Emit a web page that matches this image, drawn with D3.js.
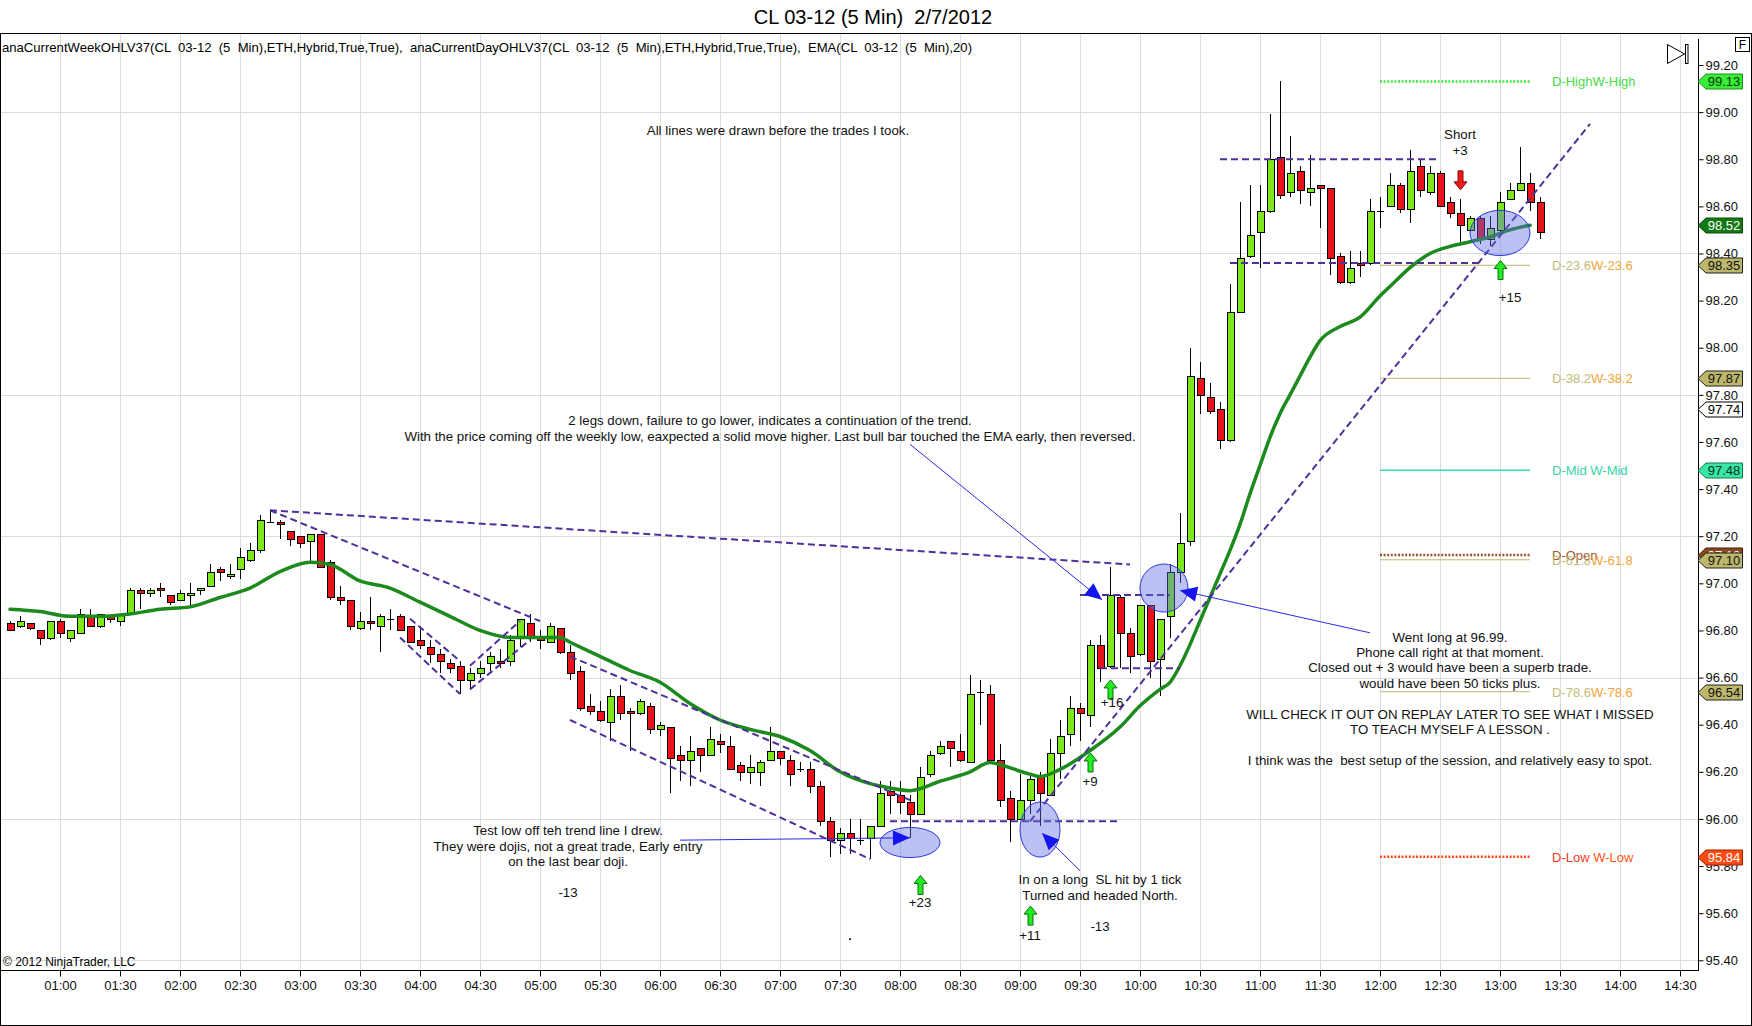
<!DOCTYPE html>
<html>
<head>
<meta charset="utf-8">
<script src="https://cdn.jsdelivr.net/npm/d3@7"></script>
<style>
    body { margin: 0; background: #fff; }
    svg text { font-family: "Liberation Sans", Arial, sans-serif; }
</style>
</head>
<body>
<svg id="chart"></svg>
<script>
// bars: time, open, high, low, close
var candles = [
    ["00:35", 96.83, 96.84, 96.80, 96.80], ["00:40", 96.82, 96.86, 96.81, 96.84],
    ["00:45", 96.83, 96.83, 96.80, 96.81], ["00:50", 96.80, 96.80, 96.74, 96.77],
    ["00:55", 96.77, 96.84, 96.76, 96.84], ["01:00", 96.84, 96.85, 96.77, 96.79],
    ["01:05", 96.77, 96.80, 96.75, 96.80], ["01:10", 96.79, 96.89, 96.79, 96.87],
    ["01:15", 96.86, 96.89, 96.82, 96.82], ["01:20", 96.82, 96.87, 96.81, 96.87],
    ["01:25", 96.86, 96.86, 96.83, 96.85], ["01:30", 96.84, 96.87, 96.82, 96.87],
    ["01:35", 96.87, 96.98, 96.87, 96.97], ["01:40", 96.97, 96.98, 96.89, 96.96],
    ["01:45", 96.96, 96.98, 96.94, 96.97], ["01:50", 96.98, 97.00, 96.94, 96.97],
    ["01:55", 96.95, 96.95, 96.91, 96.92], ["02:00", 96.93, 96.97, 96.93, 96.96],
    ["02:05", 96.95, 97.00, 96.90, 96.96], ["02:10", 96.97, 96.98, 96.95, 96.98],
    ["02:15", 96.99, 97.08, 96.99, 97.05], ["02:20", 97.06, 97.07, 97.01, 97.05],
    ["02:25", 97.03, 97.08, 97.02, 97.04], ["02:30", 97.06, 97.15, 97.02, 97.11],
    ["02:35", 97.10, 97.17, 97.09, 97.14], ["02:40", 97.14, 97.29, 97.13, 97.27],
    ["02:45", 97.26, 97.31, 97.26, 97.26], ["02:50", 97.26, 97.27, 97.19, 97.25],
    ["02:55", 97.22, 97.22, 97.16, 97.19], ["03:00", 97.20, 97.20, 97.15, 97.17],
    ["03:05", 97.18, 97.21, 97.09, 97.21], ["03:10", 97.21, 97.21, 97.07, 97.07],
    ["03:15", 97.09, 97.10, 96.93, 96.94], ["03:20", 96.94, 96.99, 96.91, 96.93],
    ["03:25", 96.93, 96.93, 96.80, 96.82], ["03:30", 96.81, 96.88, 96.80, 96.84],
    ["03:35", 96.84, 96.94, 96.80, 96.83], ["03:40", 96.82, 96.87, 96.71, 96.86],
    ["03:45", 96.85, 96.89, 96.80, 96.85], ["03:50", 96.86, 96.87, 96.80, 96.80],
    ["03:55", 96.82, 96.82, 96.75, 96.75], ["04:00", 96.76, 96.81, 96.72, 96.74],
    ["04:05", 96.73, 96.76, 96.66, 96.70], ["04:10", 96.70, 96.72, 96.62, 96.67],
    ["04:15", 96.66, 96.68, 96.62, 96.64], ["04:20", 96.65, 96.67, 96.53, 96.59],
    ["04:25", 96.59, 96.64, 96.55, 96.62], ["04:30", 96.62, 96.67, 96.60, 96.64],
    ["04:35", 96.66, 96.71, 96.63, 96.69], ["04:40", 96.67, 96.72, 96.64, 96.66],
    ["04:45", 96.67, 96.78, 96.65, 96.76], ["04:50", 96.77, 96.85, 96.73, 96.85],
    ["04:55", 96.83, 96.87, 96.75, 96.77], ["05:00", 96.77, 96.80, 96.72, 96.76],
    ["05:05", 96.75, 96.83, 96.75, 96.82], ["05:10", 96.81, 96.81, 96.70, 96.71],
    ["05:15", 96.71, 96.74, 96.59, 96.62], ["05:20", 96.63, 96.65, 96.46, 96.47],
    ["05:25", 96.48, 96.53, 96.44, 96.46], ["05:30", 96.46, 96.50, 96.41, 96.42],
    ["05:35", 96.41, 96.55, 96.33, 96.52], ["05:40", 96.52, 96.57, 96.42, 96.45],
    ["05:45", 96.46, 96.47, 96.29, 96.45], ["05:50", 96.45, 96.51, 96.44, 96.50],
    ["05:55", 96.48, 96.49, 96.36, 96.38], ["06:00", 96.38, 96.41, 96.35, 96.40],
    ["06:05", 96.39, 96.39, 96.11, 96.26], ["06:10", 96.27, 96.31, 96.16, 96.25],
    ["06:15", 96.25, 96.35, 96.14, 96.29], ["06:20", 96.30, 96.30, 96.20, 96.27],
    ["06:25", 96.27, 96.39, 96.27, 96.34], ["06:30", 96.33, 96.36, 96.28, 96.32],
    ["06:35", 96.31, 96.35, 96.21, 96.21], ["06:40", 96.23, 96.24, 96.16, 96.20],
    ["06:45", 96.20, 96.27, 96.15, 96.22], ["06:50", 96.20, 96.25, 96.14, 96.24],
    ["06:55", 96.25, 96.39, 96.25, 96.29], ["07:00", 96.29, 96.29, 96.23, 96.26],
    ["07:05", 96.25, 96.27, 96.14, 96.19], ["07:10", 96.21, 96.24, 96.20, 96.21],
    ["07:15", 96.21, 96.24, 96.11, 96.14], ["07:20", 96.14, 96.16, 95.97, 95.99],
    ["07:25", 95.99, 96.01, 95.84, 95.91], ["07:30", 95.91, 95.96, 95.85, 95.94],
    ["07:35", 95.94, 96.00, 95.85, 95.92], ["07:40", 95.91, 96.00, 95.89, 95.91],
    ["07:45", 95.92, 95.97, 95.83, 95.97], ["07:50", 95.97, 96.16, 95.97, 96.11],
    ["07:55", 96.12, 96.16, 96.02, 96.10], ["08:00", 96.10, 96.16, 96.02, 96.07],
    ["08:05", 96.07, 96.10, 95.92, 96.02], ["08:10", 96.02, 96.22, 96.02, 96.18],
    ["08:15", 96.19, 96.29, 96.18, 96.27], ["08:20", 96.28, 96.33, 96.27, 96.31],
    ["08:25", 96.33, 96.33, 96.22, 96.30], ["08:30", 96.29, 96.36, 96.24, 96.25],
    ["08:35", 96.24, 96.61, 96.24, 96.53], ["08:40", 96.54, 96.59, 96.40, 96.54],
    ["08:45", 96.53, 96.57, 96.25, 96.25], ["08:50", 96.25, 96.32, 96.05, 96.08],
    ["08:55", 96.09, 96.12, 95.90, 96.00], ["09:00", 96.00, 96.19, 96.00, 96.08],
    ["09:05", 96.08, 96.19, 96.02, 96.17], ["09:10", 96.18, 96.20, 95.97, 96.11],
    ["09:15", 96.10, 96.34, 96.10, 96.28], ["09:20", 96.28, 96.42, 96.17, 96.35],
    ["09:25", 96.36, 96.52, 96.31, 96.47], ["09:30", 96.47, 96.49, 96.33, 96.45],
    ["09:35", 96.44, 96.76, 96.39, 96.74], ["09:40", 96.74, 96.78, 96.58, 96.64],
    ["09:45", 96.65, 97.07, 96.64, 96.95], ["09:50", 96.94, 96.95, 96.64, 96.79],
    ["09:55", 96.79, 96.81, 96.62, 96.69], ["10:00", 96.70, 96.91, 96.69, 96.91],
    ["10:05", 96.91, 96.91, 96.60, 96.67], ["10:10", 96.68, 96.85, 96.52, 96.85],
    ["10:15", 96.86, 97.08, 96.77, 97.05], ["10:20", 97.05, 97.30, 97.00, 97.17],
    ["10:25", 97.18, 98.00, 97.16, 97.88], ["10:30", 97.87, 97.94, 97.72, 97.80],
    ["10:35", 97.79, 97.85, 97.72, 97.73], ["10:40", 97.74, 97.77, 97.57, 97.61],
    ["10:45", 97.61, 98.27, 97.60, 98.15], ["10:50", 98.15, 98.62, 98.15, 98.38],
    ["10:55", 98.39, 98.69, 98.38, 98.48], ["11:00", 98.49, 98.69, 98.34, 98.58],
    ["11:05", 98.58, 98.99, 98.57, 98.80], ["11:10", 98.81, 99.13, 98.63, 98.65],
    ["11:15", 98.66, 98.90, 98.64, 98.74], ["11:20", 98.75, 98.77, 98.61, 98.67],
    ["11:25", 98.66, 98.82, 98.60, 98.68], ["11:30", 98.69, 98.69, 98.51, 98.68],
    ["11:35", 98.68, 98.68, 98.31, 98.38], ["11:40", 98.39, 98.40, 98.27, 98.28],
    ["11:45", 98.28, 98.41, 98.27, 98.34], ["11:50", 98.36, 98.41, 98.30, 98.35],
    ["11:55", 98.36, 98.63, 98.35, 98.58], ["12:00", 98.58, 98.64, 98.51, 98.58],
    ["12:05", 98.60, 98.74, 98.60, 98.69], ["12:10", 98.69, 98.70, 98.57, 98.59],
    ["12:15", 98.59, 98.84, 98.53, 98.75], ["12:20", 98.77, 98.80, 98.64, 98.67],
    ["12:25", 98.66, 98.77, 98.65, 98.74], ["12:30", 98.74, 98.75, 98.60, 98.60],
    ["12:35", 98.62, 98.64, 98.55, 98.57], ["12:40", 98.57, 98.63, 98.45, 98.52],
    ["12:45", 98.50, 98.56, 98.50, 98.55], ["12:50", 98.55, 98.56, 98.44, 98.46],
    ["12:55", 98.46, 98.56, 98.43, 98.51], ["13:00", 98.50, 98.66, 98.49, 98.62],
    ["13:05", 98.63, 98.70, 98.63, 98.67], ["13:10", 98.67, 98.85, 98.67, 98.70],
    ["13:15", 98.70, 98.74, 98.58, 98.62], ["13:20", 98.62, 98.64, 98.46, 98.49]
];

// EMA(20)
var emaPoints = [
    ["00:35", 96.89], ["00:50", 96.88], ["01:05", 96.86], ["01:20", 96.86], ["01:35", 96.87],
    ["01:50", 96.89], ["02:05", 96.90], ["02:20", 96.94], ["02:35", 96.98], ["02:50", 97.05],
    ["03:05", 97.09], ["03:15", 97.08], ["03:30", 97.01], ["03:45", 96.98], ["04:00", 96.92],
    ["04:15", 96.86], ["04:30", 96.80], ["04:45", 96.77], ["05:00", 96.77], ["05:10", 96.77],
    ["05:15", 96.75], ["05:30", 96.69], ["05:45", 96.63], ["06:00", 96.58], ["06:15", 96.49],
    ["06:30", 96.42], ["06:45", 96.38], ["07:00", 96.35], ["07:15", 96.29], ["07:30", 96.20],
    ["07:45", 96.15], ["07:50", 96.14], ["08:05", 96.12], ["08:20", 96.16], ["08:35", 96.20],
    ["08:45", 96.24], ["08:50", 96.23], ["09:05", 96.19], ["09:10", 96.18], ["09:20", 96.21],
    ["09:35", 96.29], ["09:50", 96.39], ["10:00", 96.48], ["10:10", 96.55], ["10:15", 96.58],
    ["10:20", 96.65], ["10:25", 96.74], ["10:30", 96.84], ["10:35", 96.94], ["10:40", 97.04],
    ["10:45", 97.14], ["10:50", 97.25], ["10:55", 97.38], ["11:00", 97.50], ["11:05", 97.62],
    ["11:10", 97.72], ["11:15", 97.80], ["11:20", 97.88], ["11:25", 97.96], ["11:30", 98.03],
    ["11:40", 98.09], ["11:50", 98.13], ["12:00", 98.22], ["12:05", 98.26], ["12:15", 98.34],
    ["12:25", 98.40], ["12:35", 98.43], ["12:45", 98.45], ["12:55", 98.47], ["13:05", 98.50],
    ["13:15", 98.52]
];

var xTicks = ["01:00", "01:30", "02:00", "02:30", "03:00", "03:30", "04:00", "04:30",
    "05:00", "05:30", "06:00", "06:30", "07:00", "07:30", "08:00", "08:30", "09:00",
    "09:30", "10:00", "10:30", "11:00", "11:30", "12:00", "12:30", "13:00", "13:30",
    "14:00", "14:30"];
var yTicks = [95.40, 95.60, 95.80, 96.00, 96.20, 96.40, 96.60, 96.80, 97.00, 97.20,
    97.40, 97.60, 97.80, 98.00, 98.20, 98.40, 98.60, 98.80, 99.00, 99.20];
var yGrid = [95.40, 96.00, 96.60, 97.20, 97.80, 98.40, 99.00];

// day / week levels
var levelKeys = ["high", "fib", "fib", "mid", "open", "fib", "fib", "low"];
var levelPrices = [99.13, 98.35, 97.87, 97.48, 97.12, 97.10, 96.54, 95.84];
var levelDayLabels = ["D-High", "D-23.6", "D-38.2", "D-Mid ", "D-Open", "D-61.8", "D-78.6", "D-Low "];
var levelWeekLabels = ["W-High", "W-23.6", "W-38.2", "W-Mid", "", "W-61.8", "W-78.6", "W-Low"];
var levelFrom = "12:00", levelTo = "13:15";

// price markers on the axis
var markerKeys = ["high", "ema", "fib", "fib", "last", "mid", "open", "fib", "fib", "low"];
var markerPrices = [99.13, 98.52, 98.35, 97.87, 97.74, 97.48, 97.12, 97.10, 96.54, 95.84];

// drawings: from time, price, to time, price
var trendLines = [
    ["02:45", 97.31, "09:55", 97.08], ["02:45", 97.31, "05:00", 96.84],
    ["03:55", 96.85, "04:20", 96.67], ["03:50", 96.77, "04:20", 96.53],
    ["04:25", 96.55, "04:55", 96.76], ["04:25", 96.65, "04:50", 96.84],
    ["05:15", 96.69, "08:05", 96.08], ["05:15", 96.42, "07:45", 95.83],
    ["07:55", 95.99, "09:50", 95.99], ["09:05", 95.99, "13:45", 98.95],
    ["09:30", 96.95, "10:15", 96.95], ["09:40", 96.64, "10:20", 96.64],
    ["10:40", 98.80, "12:30", 98.80], ["10:45", 98.36, "12:50", 98.36]
];
var arrowLines = [
    ["06:10", 95.91, "08:05", 95.92], ["09:30", 95.78, "09:11", 95.94],
    ["08:05", 97.59, "09:41", 96.93], ["11:55", 96.79, "10:20", 96.97]
];
// ellipses: centre time, centre price, half width (minutes), half height (price)
var ellipses = [
    ["08:05", 95.90, 15, 0.064], ["09:10", 95.955, 10, 0.117],
    ["10:12", 96.98, 12.5, 0.102], ["13:00", 98.487, 15, 0.096]
];
var upArrows = [["08:10", 95.76], ["09:05", 95.63], ["09:45", 96.59], ["09:35", 96.28], ["13:00", 98.37]];
var downArrows = [["12:40", 98.67]];

var notes = [
    [["All lines were drawn before the trades I took."], "06:59", 98.92],
    [["2 legs down, failure to go lower, indicates a continuation of the trend.",
      "With the price coming off the weekly low, eaxpected a solid move higher. Last bull bar touched the EMA early, then reversed."], "06:55", 97.689],
    [["Test low off teh trend line I drew.", "They were dojis, not a great trade, Early entry",
      "on the last bear doji."], "05:14", 95.949],
    [["-13"], "05:14", 95.686],
    [["In on a long  SL hit by 1 tick", "Turned and headed North."], "09:40", 95.741],
    [["-13"], "09:40", 95.545],
    [["Went long at 96.99.", "Phone call right at that moment.",
      "Closed out + 3 would have been a superb trade.", "would have been 50 ticks plus."], "12:35", 96.772],
    [["WILL CHECK IT OUT ON REPLAY LATER TO SEE WHAT I MISSED", "TO TEACH MYSELF A LESSON ."], "12:35", 96.445],
    [["I think was the  best setup of the session, and relatively easy to spot."], "12:35", 96.246],
    [["Short", "+3"], "12:40", 98.903],
    [["+23"], "08:10", 95.647],
    [["+11"], "09:05", 95.507],
    [["+16"], "09:46", 96.496],
    [["+9"], "09:35", 96.157],
    [["+15"], "13:05", 98.215]
];

var width = 1752,
    height = 1026,
    plotRight = 1698,
    plotTop = 34,
    plotBottom = 970;

var parseTime = d3.timeParse("%Y-%m-%d %H:%M");
function t(s) {
    return parseTime("2012-02-07 " + s);
}

var svg = d3.select("svg#chart")
    .attr("width", width)
    .attr("height", height);

svg.append("rect")
    .attr("width", width)
    .attr("height", height)
    .attr("fill", "#fff");

var x = d3.scaleTime()
    .domain([t("00:30"), t("14:39")])
    .range([0, plotRight]);

var y = d3.scaleLinear()
    .domain([95.40, 99.20])
    .range([960.3, 65]);

function px(s) {
    return x(t(s));
}

// title
svg.append("text")
    .attr("x", 873)
    .attr("y", 17)
    .attr("text-anchor", "middle")
    .attr("dominant-baseline", "central")
    .style("font-size", "20px")
    .style("white-space", "pre")
    .text("CL 03-12 (5 Min)  2/7/2012");

// grid
var grid = svg.append("g").attr("shape-rendering", "crispEdges");
grid.selectAll("line.vgrid")
    .data(xTicks)
    .enter()
    .append("line")
        .attr("x1", function(d) { return Math.round(px(d)) + 0.5; })
        .attr("x2", function(d) { return Math.round(px(d)) + 0.5; })
        .attr("y1", plotTop)
        .attr("y2", plotBottom)
        .attr("stroke", "#dcdcdc");
grid.selectAll("line.hgrid")
    .data(yGrid)
    .enter()
    .append("line")
        .attr("x1", 0)
        .attr("x2", plotRight)
        .attr("y1", function(d) { return Math.round(y(d)) + 0.5; })
        .attr("y2", function(d) { return Math.round(y(d)) + 0.5; })
        .attr("stroke", "#dcdcdc");

// indicator caption
svg.append("text")
    .attr("x", 2)
    .attr("y", 47)
    .attr("dominant-baseline", "central")
    .attr("textLength", 970)
    .attr("lengthAdjust", "spacingAndGlyphs")
    .style("font-size", "13px")
    .style("white-space", "pre")
    .text("anaCurrentWeekOHLV37(CL  03-12  (5  Min),ETH,Hybrid,True,True),  anaCurrentDayOHLV37(CL  03-12  (5  Min),ETH,Hybrid,True,True),  EMA(CL  03-12  (5  Min),20)");

// level lines
var levelStyle = {
    high: { stroke: "#3ee63e", width: 2.5, dash: "2,1.6", day: "#45dc45", week: "#45dc45" },
    fib: { stroke: "#bdb76b", width: 1, dash: null, day: "#c2bc78", week: "#f2a43a" },
    mid: { stroke: "#36dcb4", width: 1.5, dash: null, day: "#38d4a4", week: "#38d4a4" },
    open: { stroke: "#a0522d", width: 2.5, dash: "2,1.6", day: "#a0522d", week: "#a0522d" },
    low: { stroke: "#ff4a1a", width: 2.5, dash: "2,1.6", day: "#ee3c1c", week: "#ff5418" }
};

var level_g = svg.append("g");
level_g.selectAll("line")
    .data(levelPrices)
    .enter()
    .append("line")
        .attr("x1", px(levelFrom))
        .attr("x2", px(levelTo))
        .attr("y1", function(d) { return y(d); })
        .attr("y2", function(d) { return y(d); })
        .attr("stroke", function(d, i) { return levelStyle[levelKeys[i]].stroke; })
        .attr("stroke-width", function(d, i) { return levelStyle[levelKeys[i]].width; })
        .attr("stroke-dasharray", function(d, i) { return levelStyle[levelKeys[i]].dash; });

var level_text = level_g.selectAll("text")
    .data(levelPrices)
    .enter()
    .append("text")
        .attr("x", px(levelTo) + 22)
        .attr("y", function(d) { return y(d); })
        .attr("dominant-baseline", "central")
        .style("font-size", "13px")
        .style("white-space", "pre");
level_text.append("tspan")
    .attr("fill", function(d, i) { return levelStyle[levelKeys[i]].day; })
    .text(function(d, i) { return levelDayLabels[i]; });
level_text.append("tspan")
    .attr("fill", function(d, i) { return levelStyle[levelKeys[i]].week; })
    .text(function(d, i) { return levelWeekLabels[i]; });

// candles
var candle_g = svg.append("g")
    .attr("shape-rendering", "crispEdges")
    .selectAll("g.candle")
    .data(candles)
    .enter()
    .append("g")
        .attr("class", "candle");

function cx(d) {
    return Math.round(px(d[0])) + 0.5;
}

candle_g.append("line")
    .attr("x1", cx)
    .attr("x2", cx)
    .attr("y1", function(d) { return Math.round(y(d[2])); })
    .attr("y2", function(d) { return Math.round(y(d[3])); })
    .attr("stroke", "#000");

candle_g.each(function(d) {
    var g = d3.select(this),
        top = Math.round(y(Math.max(d[1], d[4]))),
        bottom = Math.round(y(Math.min(d[1], d[4])));

    if (bottom - top < 1) {
        g.append("line")
            .attr("x1", cx(d) - 3.5)
            .attr("x2", cx(d) + 3.5)
            .attr("y1", top + 0.5)
            .attr("y2", top + 0.5)
            .attr("stroke", "#000");
    }
    else {
        g.append("rect")
            .attr("x", cx(d) - 3.5)
            .attr("y", top + 0.5)
            .attr("width", 7)
            .attr("height", bottom - top)
            .attr("fill", d[4] >= d[1] ? "#7de81c" : "#e8141a")
            .attr("stroke", "#000");
    }
});

// EMA
var ema_line = d3.line()
    .x(function(d) { return px(d[0]); })
    .y(function(d) { return y(d[1]); })
    .curve(d3.curveMonotoneX);

svg.append("path")
    .attr("d", ema_line(emaPoints))
    .attr("fill", "none")
    .attr("stroke", "#1c8a1c")
    .attr("stroke-width", 3.5)
    .attr("stroke-linecap", "round")
    .attr("stroke-linejoin", "round");

// trend lines
svg.append("g")
    .selectAll("line")
    .data(trendLines)
    .enter()
    .append("line")
        .attr("x1", function(d) { return px(d[0]); })
        .attr("y1", function(d) { return y(d[1]); })
        .attr("x2", function(d) { return px(d[2]); })
        .attr("y2", function(d) { return y(d[3]); })
        .attr("stroke", "#50309a")
        .attr("stroke-width", 2)
        .attr("stroke-dasharray", "7,4");

// ellipses
svg.append("g")
    .selectAll("ellipse")
    .data(ellipses)
    .enter()
    .append("ellipse")
        .attr("cx", function(d) { return px(d[0]); })
        .attr("cy", function(d) { return y(d[1]); })
        .attr("rx", function(d) { return x(d3.timeMinute.offset(t(d[0]), d[2])) - px(d[0]); })
        .attr("ry", function(d) { return y(d[1] - d[3]) - y(d[1]); })
        .attr("fill", "rgba(96, 108, 228, 0.42)")
        .attr("stroke", "#2a3ae0")
        .attr("stroke-width", 1);

// blue arrows
var arrow_g = svg.append("g")
    .selectAll("g")
    .data(arrowLines)
    .enter()
    .append("g");

arrow_g.append("line")
    .attr("x1", function(d) { return px(d[0]); })
    .attr("y1", function(d) { return y(d[1]); })
    .attr("x2", function(d) { return px(d[2]); })
    .attr("y2", function(d) { return y(d[3]); })
    .attr("stroke", "#2a2ae6")
    .attr("stroke-width", 1);

arrow_g.append("path")
    .attr("d", "M0,0 L-17,-7.5 L-17,7.5 Z")
    .attr("fill", "#1414ee")
    .attr("transform", function(d) {
        var x1 = px(d[0]), y1 = y(d[1]), x2 = px(d[2]), y2 = y(d[3]);
        var angle = Math.atan2(y2 - y1, x2 - x1) * 180 / Math.PI;
        return "translate(" + [x2, y2] + ") rotate(" + angle + ")";
    });

// trade arrows
svg.append("g")
    .selectAll("path")
    .data(upArrows)
    .enter()
    .append("path")
        .attr("d", "M0,0 L6.5,8 L2.5,8 L2.5,19 L-2.5,19 L-2.5,8 L-6.5,8 Z")
        .attr("transform", function(d) { return "translate(" + [Math.round(px(d[0])) + 0.5, y(d[1])] + ")"; })
        .attr("fill", "#22ec22")
        .attr("stroke", "#0c6a0c")
        .attr("stroke-width", 1);

svg.append("g")
    .selectAll("path")
    .data(downArrows)
    .enter()
    .append("path")
        .attr("d", "M0,0 L6.5,-8 L2.5,-8 L2.5,-19 L-2.5,-19 L-2.5,-8 L-6.5,-8 Z")
        .attr("transform", function(d) { return "translate(" + [Math.round(px(d[0])) + 0.5, y(d[1])] + ")"; })
        .attr("fill", "#ee1a1a")
        .attr("stroke", "#8a0a0a")
        .attr("stroke-width", 1);

// notes
var note_text = svg.append("g")
    .selectAll("text")
    .data(notes)
    .enter()
    .append("text")
        .attr("text-anchor", "middle")
        .style("font-size", "13.3px")
        .style("white-space", "pre")
        .attr("fill", "#111");

note_text.selectAll("tspan")
    .data(function(d) {
        return d[0].map(function(line, i) {
            return { line: line, i: i, x: px(d[1]), y: y(d[2]) };
        });
    })
    .enter()
    .append("tspan")
        .attr("x", function(d) { return d.x; })
        .attr("y", function(d) { return d.y + d.i * 15.4 + 4.5; })
        .text(function(d) { return d.line; });

svg.append("circle")
    .attr("cx", px("07:35"))
    .attr("cy", y(95.49))
    .attr("r", 1.2)
    .attr("fill", "#333");

svg.append("text")
    .attr("x", 3)
    .attr("y", 962)
    .attr("dominant-baseline", "central")
    .style("font-size", "12px")
    .text("\u00a9 2012 NinjaTrader, LLC");

// x axis
var x_axis = d3.axisBottom(x)
    .tickValues(xTicks.map(t))
    .tickFormat(d3.timeFormat("%H:%M"))
    .tickSize(6)
    .tickPadding(4)
    .tickSizeOuter(0);

var xg = svg.append("g")
    .attr("transform", "translate(0," + (plotBottom + 0.5) + ")")
    .call(x_axis);
xg.select(".domain").remove();
xg.selectAll("line").attr("stroke", "#000");
xg.selectAll("text")
    .style("font-size", "13px")
    .style("font-family", "'Liberation Sans', Arial, sans-serif")
    .attr("fill", "#111");

// y axis
var y_axis = d3.axisRight(y)
    .tickValues(yTicks)
    .tickFormat(d3.format(".2f"))
    .tickSize(5)
    .tickPadding(2);

var yg = svg.append("g")
    .attr("transform", "translate(" + (plotRight + 0.5) + ",0)")
    .call(y_axis);
yg.select(".domain").remove();
yg.selectAll("line").attr("stroke", "#000");
yg.selectAll("text")
    .style("font-size", "13px")
    .style("font-family", "'Liberation Sans', Arial, sans-serif")
    .attr("fill", "#111");

// frame
var frame = svg.append("g")
    .attr("shape-rendering", "crispEdges")
    .attr("stroke", "#000")
    .attr("fill", "none");
frame.append("rect")
    .attr("x", 0.5)
    .attr("y", plotTop - 0.5)
    .attr("width", width - 1)
    .attr("height", height - plotTop);
frame.append("line")
    .attr("x1", 0)
    .attr("x2", plotRight)
    .attr("y1", plotBottom + 0.5)
    .attr("y2", plotBottom + 0.5);
frame.append("line")
    .attr("x1", plotRight + 0.5)
    .attr("x2", plotRight + 0.5)
    .attr("y1", 39)
    .attr("y2", plotBottom + 0.5);

// price markers
var markerStyle = {
    high: { fill: "#38ec38", stroke: "#14901a", text: "#063806" },
    ema: { fill: "#137a13", stroke: "#0a4a0a", text: "#fff" },
    fib: { fill: "#bdb76b", stroke: "#222", text: "#111" },
    last: { fill: "#fff", stroke: "#000", text: "#000" },
    mid: { fill: "#36e6a4", stroke: "#107a50", text: "#063020" },
    open: { fill: "#8b4a1c", stroke: "#3a1a08", text: "#fff" },
    low: { fill: "#ff4a12", stroke: "#a02000", text: "#fff" }
};

var marker_g = svg.append("g")
    .selectAll("g")
    .data(markerPrices)
    .enter()
    .append("g")
        .attr("transform", function(d) { return "translate(" + [plotRight, Math.round(y(d)) + 0.5] + ")"; });

marker_g.append("path")
    .attr("d", "M0,0 L8,-7.5 L44.5,-7.5 L44.5,7.5 L8,7.5 Z")
    .attr("fill", function(d, i) { return markerStyle[markerKeys[i]].fill; })
    .attr("stroke", function(d, i) { return markerStyle[markerKeys[i]].stroke; });

marker_g.append("text")
    .attr("x", 26)
    .attr("y", 0)
    .attr("text-anchor", "middle")
    .attr("dominant-baseline", "central")
    .style("font-size", "13px")
    .attr("fill", function(d, i) { return markerStyle[markerKeys[i]].text; })
    .text(function(d) { return d3.format(".2f")(d); });

// toolbar glyphs
svg.append("path")
    .attr("d", "M1667.5,44.5 L1684.5,54 L1667.5,63.5 Z")
    .attr("fill", "#fff")
    .attr("stroke", "#000");
svg.append("rect")
    .attr("x", 1685.5)
    .attr("y", 44.5)
    .attr("width", 2.5)
    .attr("height", 19)
    .attr("fill", "#fff")
    .attr("stroke", "#000");
svg.append("rect")
    .attr("x", 1735.5)
    .attr("y", 37.5)
    .attr("width", 14)
    .attr("height", 14)
    .attr("fill", "#fff")
    .attr("stroke", "#000");
svg.append("text")
    .attr("x", 1742.5)
    .attr("y", 45)
    .attr("text-anchor", "middle")
    .attr("dominant-baseline", "central")
    .style("font-size", "12px")
    .text("F");
</script>
</body>
</html>
